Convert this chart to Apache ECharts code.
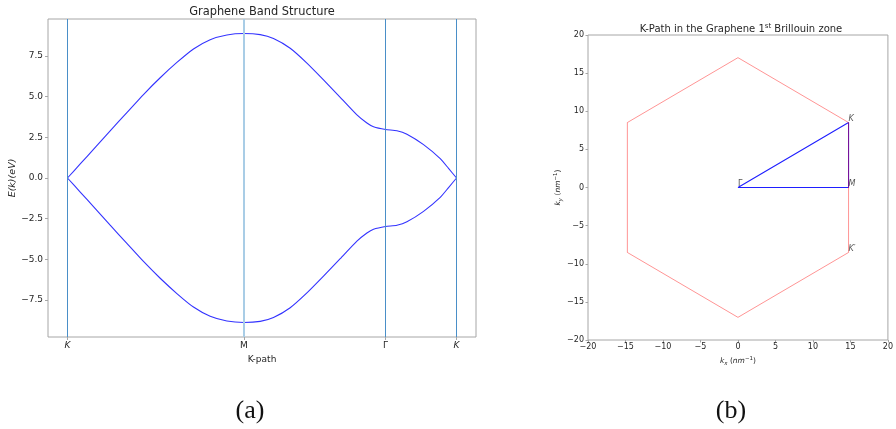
<!DOCTYPE html>
<html>
<head>
<meta charset="utf-8">
<script src="https://cdn.jsdelivr.net/npm/echarts@6/dist/echarts.min.js"></script>
<style>
  html, body { margin: 0; padding: 0; background: #fff; }
  #c { width: 896px; height: 429px; }
</style>
</head>
<body>
<div id="c"></div>
<script>
// ---- (a) band structure along K -> M -> Γ -> K ----
// high-symmetry points along the path (path units)
const kTickPos = [0, 176.4, 318, 389];
const kTickNames = ['K', 'M', 'Γ', 'K'];
// sampled path coordinate and the two π bands (eV)
const kPath = [0, 13, 26, 42.7, 59.4, 76, 92.7, 109.4, 126, 142.7, 159.4, 176.4,
  192.7, 206, 222.7, 239.4, 256, 272.7, 289.4, 299.4, 306, 318,
  329.4, 339.4, 356, 372.7, 381, 389];
const bandUpper = [0, 0.88, 1.76, 2.90, 4.02, 5.13, 6.16, 7.10, 7.93, 8.50, 8.79, 8.88,
  8.81, 8.57, 7.97, 7.06, 6.03, 4.96, 3.88, 3.38, 3.15, 2.98,
  2.90, 2.69, 2.05, 1.19, 0.59, 0];
const bandLower = [0, -0.88, -1.76, -2.90, -4.02, -5.13, -6.16, -7.10, -7.93, -8.50, -8.79, -8.88,
  -8.81, -8.57, -7.97, -7.06, -6.03, -4.96, -3.88, -3.38, -3.15, -2.98,
  -2.90, -2.69, -2.05, -1.19, -0.59, 0];
const energyTicks = [-7.5, -5, -2.5, 0, 2.5, 5, 7.5];

// ---- (b) first Brillouin zone and the K-path (nm^-1) ----
const zoneKx = [0, 14.75, 14.75, 0, -14.75, -14.75, 0];
const zoneKy = [17.03, 8.52, -8.52, -17.03, -8.52, 8.52, 17.03];
const pathKx = [0, 14.75, 14.75, 0];
const pathKy = [0, 8.52, 0, 0];
const pointNames = ['Γ', 'K', 'M', 'K′'];
const pointKx = [0, 14.75, 14.75, 14.75];
const pointKy = [0, 8.52, 0, -8.52];

const FONT = 'DejaVu Sans';
const TXT = '#262626';
const SPINE = '#a6a6a6';
const minus = v => String(v).replace('-', '\u2212');

const zip = (xs, ys) => xs.map((x, i) => [x, ys[i]]);

const chart = echarts.init(document.getElementById('c'), null, { renderer: 'canvas' });

const hiddenLine = { show: false, onZero: false };

const option = {
  animation: false,
  backgroundColor: '#fff',
  textStyle: { fontFamily: FONT },
  grid: [
    { left: 48, top: 19, width: 428, height: 318, show: true, borderColor: SPINE, borderWidth: 1, backgroundColor: 'transparent' },
    { left: 588, top: 35, width: 305, height: 305, show: true, borderColor: SPINE, borderWidth: 1, backgroundColor: 'transparent' }
  ],
  xAxis: [
    {
      gridIndex: 0, type: 'value', min: -19.45, max: 408.45,
      axisLine: hiddenLine, splitLine: { show: false },
      axisTick: { show: true, inside: false, length: 3, customValues: kTickPos, lineStyle: { color: SPINE } },
      axisLabel: {
        show: true, margin: 4, fontSize: 9, color: TXT, fontFamily: FONT,
        customValues: kTickPos,
        formatter: v => {
          let best = 0;
          kTickPos.forEach((p, i) => { if (Math.abs(p - v) < Math.abs(kTickPos[best] - v)) best = i; });
          const n = kTickNames[best];
          return n === 'K' ? '{it|K}' : n;
        },
        rich: { it: { fontStyle: 'italic', fontSize: 9, color: TXT, fontFamily: FONT } }
      },
      name: 'K-path', nameLocation: 'middle', nameGap: 14,
      nameTextStyle: { fontSize: 9, color: TXT, fontFamily: FONT }
    },
    {
      gridIndex: 1, type: 'value', min: -20, max: 20, interval: 5,
      axisLine: hiddenLine, splitLine: { show: false },
      axisTick: { show: true, length: 2.5, lineStyle: { color: SPINE } },
      axisLabel: { margin: 3, fontSize: 8, color: TXT, fontFamily: FONT, formatter: minus },
      name: '{it|k}{sub|x} ({it|nm}{sup|\u22121})', nameLocation: 'middle', nameGap: 11,
      nameTextStyle: {
        fontSize: 7.5, color: TXT, fontFamily: FONT,
        rich: {
          it: { fontStyle: 'italic', fontSize: 7.5, color: TXT, fontFamily: FONT },
          sub: { fontStyle: 'italic', fontSize: 5.5, color: TXT, fontFamily: FONT, padding: [4, 0, 0, 0] },
          sup: { fontSize: 5.5, color: TXT, fontFamily: FONT, padding: [0, 0, 5, 0] }
        }
      }
    }
  ],
  yAxis: [
    {
      gridIndex: 0, type: 'value', min: -9.77, max: 9.77,
      axisLine: hiddenLine, splitLine: { show: false },
      axisTick: { show: true, length: 3, customValues: energyTicks, lineStyle: { color: SPINE } },
      axisLabel: {
        show: true, margin: 5, fontSize: 9, color: TXT, fontFamily: FONT,
        customValues: energyTicks,
        formatter: v => minus(v.toFixed(1))
      },
      name: 'E(k)(eV)', nameLocation: 'middle', nameGap: 28,
      nameTextStyle: { fontSize: 9.5, fontStyle: 'italic', color: TXT, fontFamily: FONT }
    },
    {
      gridIndex: 1, type: 'value', min: -20, max: 20, interval: 5,
      axisLine: hiddenLine, splitLine: { show: false },
      axisTick: { show: true, length: 2.5, lineStyle: { color: SPINE } },
      axisLabel: { margin: 4, fontSize: 8, color: TXT, fontFamily: FONT, formatter: minus },
      name: '{it|k}{sub|y} ({it|nm}{sup|\u22121})', nameLocation: 'middle', nameGap: 18,
      nameTextStyle: {
        fontSize: 7.5, color: TXT, fontFamily: FONT,
        rich: {
          it: { fontStyle: 'italic', fontSize: 7.5, color: TXT, fontFamily: FONT },
          sub: { fontStyle: 'italic', fontSize: 5.5, color: TXT, fontFamily: FONT, padding: [4, 0, 0, 0] },
          sup: { fontSize: 5.5, color: TXT, fontFamily: FONT, padding: [0, 0, 5, 0] }
        }
      }
    }
  ],
  series: [
    {
      name: 'conduction band', type: 'line', xAxisIndex: 0, yAxisIndex: 0,
      data: zip(kPath, bandUpper), showSymbol: false, smooth: 0.2,
      lineStyle: { color: '#3333ff', width: 1.1 }, z: 3
    },
    {
      name: 'valence band', type: 'line', xAxisIndex: 0, yAxisIndex: 0,
      data: zip(kPath, bandLower), showSymbol: false, smooth: 0.2,
      lineStyle: { color: '#3333ff', width: 1.1 }, z: 3,
      markLine: {
        silent: true, symbol: 'none', label: { show: false },
        data: kTickPos.map((p, i) => ({
          xAxis: p,
          lineStyle: i === 1
            ? { color: '#a9cde6', width: 2, type: 'solid' }
            : { color: '#4a8fc8', width: 1, type: 'solid' }
        }))
      }
    },
    {
      name: 'k-path', type: 'line', xAxisIndex: 1, yAxisIndex: 1,
      data: zip(pathKx, pathKy), showSymbol: false,
      lineStyle: { color: '#1f1fff', width: 1.1 }, z: 2
    },
    {
      name: 'brillouin zone', type: 'line', xAxisIndex: 1, yAxisIndex: 1,
      data: zip(zoneKx, zoneKy), showSymbol: false,
      lineStyle: { color: 'rgba(255,0,0,0.42)', width: 1 }, z: 3
    },
    {
      name: 'points', type: 'scatter', xAxisIndex: 1, yAxisIndex: 1,
      data: pointKx.map((x, i) => ({ value: [x, pointKy[i]], name: pointNames[i] })),
      symbolSize: 0.001, itemStyle: { color: 'rgba(0,0,0,0)' }, z: 4,
      label: {
        show: true, position: 'insideBottomLeft', distance: 0,
        fontSize: 8, color: TXT, fontFamily: FONT,
        formatter: p => p.name === 'Γ' ? 'Γ' : '{it|' + p.name + '}',
        rich: { it: { fontStyle: 'italic', fontSize: 8, color: TXT, fontFamily: FONT } }
      }
    }
  ],
  graphic: [
    {
      type: 'text', x: 262, y: 12,
      style: { text: 'Graphene Band Structure', fill: TXT, font: '11.4px "DejaVu Sans"', textAlign: 'center', textVerticalAlign: 'middle' }
    },
    {
      type: 'text', x: 741, y: 29,
      style: {
        text: '{t|K-Path in the Graphene 1}{s|st}{t| Brillouin zone}',
        textAlign: 'center', textVerticalAlign: 'middle',
        rich: {
          t: { fontSize: 10, fontFamily: FONT, fill: TXT },
          s: { fontSize: 7, fontFamily: FONT, fill: TXT, padding: [0, 0, 6, 0] }
        }
      }
    },
    {
      type: 'text', x: 250, y: 411,
      style: { text: '(a)', fill: '#111', font: '26px "Liberation Serif"', textAlign: 'center', textVerticalAlign: 'middle' }
    },
    {
      type: 'text', x: 731, y: 411,
      style: { text: '(b)', fill: '#111', font: '26px "Liberation Serif"', textAlign: 'center', textVerticalAlign: 'middle' }
    }
  ]
};

chart.setOption(option);
</script>
</body>
</html>
